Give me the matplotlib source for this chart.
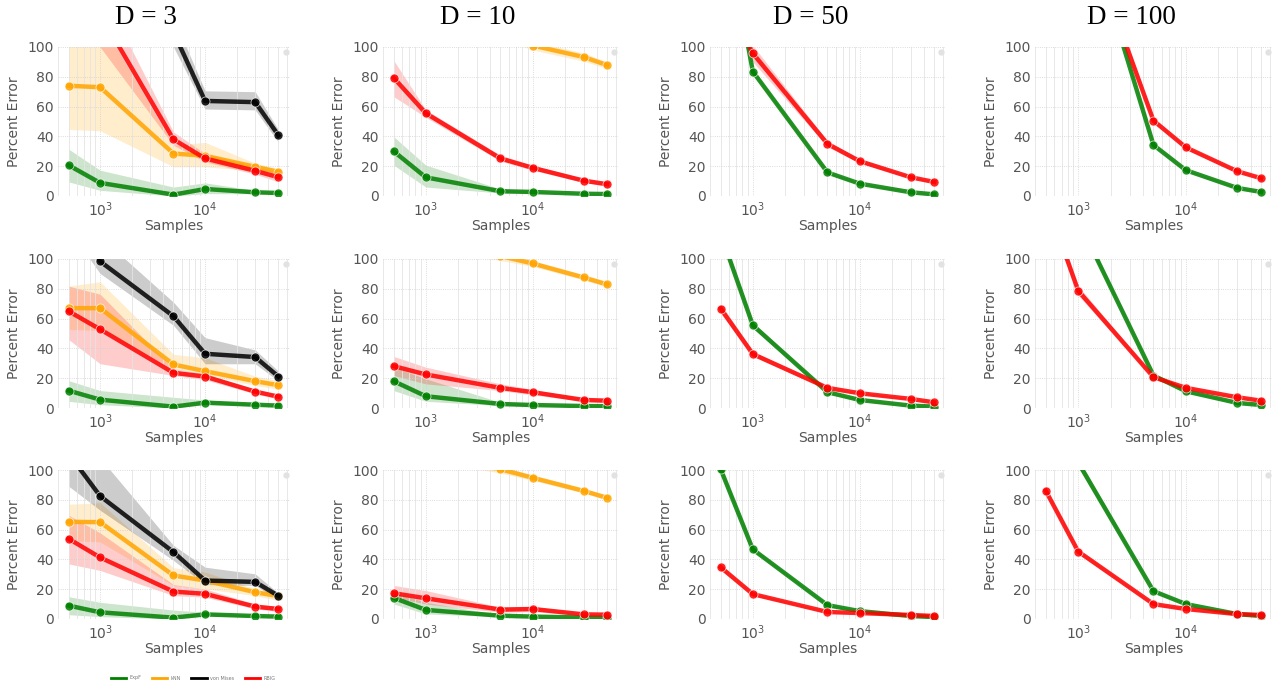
import numpy as np
import matplotlib
matplotlib.use('Agg')
import matplotlib.pyplot as plt
from matplotlib.lines import Line2D

# sample sizes on the x axis
samples = [500, 1000, 5000, 10000, 30000, 50000]
dims = [3, 10, 50, 100]
methods = ['ExpF', 'kNN', 'von Mises', 'RBIG']
colors = {'ExpF': 'green', 'kNN': 'orange', 'von Mises': 'black', 'RBIG': 'red'}

# values are [row][column], None = method not shown in that panel
expf_mean = [
    [[20.7, 8.8, 0.9, 4.7, 2.5, 2.0], [30, 12.5, 3.2, 2.7, 1.5, 1.3],
     [200, 83.5, 15.8, 8.3, 2.5, 1.1], [300, 200, 34.2, 17.3, 5.4, 2.7]],
    [[11.7, 5.6, 0.9, 3.6, 2.2, 1.6], [18, 7.9, 2.7, 2.0, 1.3, 1.2],
     [117, 55.5, 10.6, 5.4, 1.6, 0.9], [160, 126, 21.8, 11.2, 3.4, 2.0]],
    [[9.0, 4.5, 0.9, 3.1, 2.0, 1.6], [14.2, 6.1, 2.2, 1.6, 1.0, 0.8],
     [100.5, 46.7, 9.3, 5.3, 2.0, 1.3], [143, 105, 18.7, 10, 3.3, 2.0]],
]
expf_lo = [
    [[9.5, 3.8, 0, 1.6, 1.5, 1.5], [20.7, 6, 2, 2.2, 1.2, 1.0],
     [195, 82, 15, 7.8, 2.1, 0.8], [295, 196, 33.5, 16.8, 5.0, 2.4]],
    [[4.5, 2.2, 0, 2.2, 1.5, 1.2], [11.7, 4.5, 1.6, 1.6, 1.0, 0.9],
     [114, 53.5, 10, 5.0, 1.3, 0.7], [157, 123, 21, 10.6, 3.0, 1.7]],
    [[2.9, 1.6, 0, 2.0, 1.5, 1.2], [10.1, 3.4, 1.6, 1.2, 0.7, 0.6],
     [98, 45.5, 8.8, 4.9, 1.7, 1.1], [140, 102, 18, 9.5, 3.0, 1.7]],
]
expf_hi = [
    [[31.5, 17.3, 6, 8.8, 3.8, 2.5], [39.8, 20.7, 4.7, 3.2, 1.8, 1.6],
     [205, 85, 16.6, 8.8, 2.9, 1.4], [305, 204, 35, 17.8, 5.8, 3.0]],
    [[18.4, 11.7, 7.2, 5.4, 3.0, 2.2], [27.4, 19.6, 3.8, 2.5, 1.6, 1.5],
     [120, 57.5, 11.2, 5.8, 1.9, 1.1], [163, 129, 22.6, 11.8, 3.8, 2.3]],
    [[15, 11.2, 6, 4.5, 2.6, 2.0], [18, 11.2, 2.8, 2.0, 1.3, 1.0],
     [103, 48, 9.8, 5.7, 2.3, 1.5], [146, 108, 19.4, 10.5, 3.6, 2.3]],
]

knn_mean = [
    [[74, 73, 28.5, 27, 19.6, 16.2], [130, 120, 110, 101, 93.3, 87.8], None, None],
    [[67, 67, 29.2, 24.7, 18, 15.3], [115, 110, 102, 97, 87.6, 82.9], None, None],
    [[65.2, 65, 29.2, 25.8, 18, 15.3], [115, 110, 100.5, 94.8, 86, 81.3], None, None],
]
knn_lo = [
    [[44.7, 43.8, 19.6, 19.6, 17, 14.6], [126, 116, 106, 98, 90.5, 85.5], None, None],
    [[52.8, 52, 26.3, 22.5, 15, 12.8], [111, 106, 99, 95, 86, 81], None, None],
    [[52.8, 51.7, 22.5, 20.2, 15.7, 12.4], [111, 106, 98, 93, 84.5, 79.8], None, None],
]
knn_hi = [
    [[120, 118, 34, 36, 22, 18.5], [134, 124, 114, 104, 96, 90], None, None],
    [[81.8, 84.7, 36, 33.7, 21.3, 18.4], [119, 114, 105, 99, 89.5, 85], None, None],
    [[77, 78, 34.4, 31.5, 20.2, 18], [119, 114, 103, 96.5, 87.5, 83], None, None],
]

vm_mean = [
    [[200, 180, 110, 63.8, 63, 40.7], None, None, None],
    [[130, 98.4, 61.6, 36.4, 34.2, 21.1], None, None, None],
    [[111, 82.5, 44.9, 25.8, 24.9, 15.5], None, None, None],
]
vm_lo = [
    [[190, 170, 100, 58.4, 57.8, 36], None, None, None],
    [[120, 90.3, 55.5, 29.7, 29.7, 18], None, None, None],
    [[89.2, 73, 39.3, 23.1, 22.5, 12.8], None, None, None],
]
vm_hi = [
    [[210, 190, 120, 70.6, 70, 44.3], None, None, None],
    [[140, 115, 71, 47.2, 39, 24.7], None, None, None],
    [[130, 108, 49.4, 34.8, 30.3, 17.3], None, None, None],
]

rbig_mean = [
    [[160, 122, 38, 25.2, 16.9, 12.6], [79.3, 55.5, 25.2, 18.9, 10.3, 7.9],
     [140, 95.7, 35, 23.4, 12.6, 9.4], [280, 190, 50.6, 32.6, 16.6, 11.9]],
    [[65, 52.8, 23.6, 21.1, 11, 7.6], [28.1, 22.5, 13.5, 10.6, 5.4, 4.9],
     [66.7, 36.2, 13.5, 9.9, 6.1, 3.8], [140, 78.7, 20.7, 13.5, 7.2, 4.9]],
    [[53.9, 41.3, 18.4, 16.9, 8.3, 6.7], [17.3, 13.9, 6.3, 6.7, 3.1, 2.9],
     [34.7, 16.7, 4.7, 4.0, 2.7, 2.0], [86, 45.3, 10, 6.7, 3.3, 2.7]],
]
rbig_lo = [
    [[140, 100, 34, 23, 14.6, 9.5], [66.7, 52.8, 23.4, 17.3, 9.2, 6.5],
     [132, 90, 33, 22.2, 11.8, 8.6], [270, 182, 49, 31.5, 15.8, 11.2]],
    [[46, 29.7, 21.8, 18.9, 9.5, 6], [21.8, 16.2, 11.7, 8.8, 4.5, 4.0],
     [63.5, 34.5, 12.7, 9.2, 5.5, 3.3], [135, 75.5, 19.8, 12.8, 6.6, 4.3]],
    [[37, 32.6, 15.7, 14.6, 6.8, 5], [14.6, 10.1, 4.5, 5, 2.2, 2],
     [33, 15.8, 4.1, 3.5, 2.2, 1.6], [84, 43.8, 9.3, 6.1, 2.9, 2.2]],
]
rbig_hi = [
    [[180, 140, 43, 28.5, 19.6, 16], [91, 57.8, 27.4, 20.7, 11.7, 9.2],
     [148, 101, 37, 24.6, 13.4, 10.2], [290, 198, 52.2, 33.7, 17.4, 12.6]],
    [[81.8, 76.4, 26.3, 23, 12.5, 9], [34.6, 27.4, 16.2, 12.5, 6.5, 6],
     [70, 38, 14.3, 10.6, 6.7, 4.3], [145, 82, 21.6, 14.2, 7.8, 5.5]],
    [[69.7, 57.8, 23.1, 20.2, 10, 8.5], [22.5, 19.1, 7.9, 8.5, 4, 4],
     [36.5, 17.6, 5.3, 4.5, 3.2, 2.4], [88, 46.8, 10.7, 7.3, 3.7, 3.2]],
]

series = {
    'ExpF': (expf_mean, expf_lo, expf_hi),
    'kNN': (knn_mean, knn_lo, knn_hi),
    'von Mises': (vm_mean, vm_lo, vm_hi),
    'RBIG': (rbig_mean, rbig_lo, rbig_hi),
}

W, H = 1281, 687
fig = plt.figure(figsize=(W/100, H/100), dpi=100)

col_left = [58, 383, 710, 1035]
col_width = [231, 235, 235, 237]
row_bottom = [196, 408, 619]
ax_h = 149
# column headings sit over the whole column (incl. y label)
title_x = [146, 478, 811, 1131]

tick_col = '#555555'

for r in range(3):
    for c in range(4):
        ax = fig.add_axes([col_left[c]/W, 1 - row_bottom[r]/H, col_width[c]/W, ax_h/H])
        ax.set_xscale('log')
        for m in methods:
            mean, lo, hi = series[m]
            if mean[r][c] is None:
                continue
            ax.fill_between(samples, lo[r][c], hi[r][c], color=colors[m], alpha=0.2, lw=0)
            ax.plot(samples, mean[r][c], color=colors[m], lw=3.2, alpha=0.85,
                    marker='o', ms=6.5, mec='white', mew=0.5)
        ax.set_xlim(397, 63000)
        ax.set_ylim(0, 100)
        ax.set_yticks([0, 20, 40, 60, 80, 100])
        ax.set_xticks([1e3, 1e4])
        ax.grid(which='major', color='#d0d0d0', lw=0.6, ls=':')
        ax.grid(which='minor', axis='x', color='#e4e4e4', lw=0.6, ls='-')
        for s in ax.spines.values():
            s.set_visible(False)
        ax.tick_params(which='both', length=0, labelsize=10, colors=tick_col, pad=3)
        ax.set_xlabel('Samples', fontsize=10, color=tick_col, labelpad=0)
        ax.set_ylabel('Percent Error', fontsize=10, color=tick_col, labelpad=5)
        # faint marker in the top right corner
        ax.plot([0.985], [0.965], transform=ax.transAxes, marker='o', ms=3.5,
                color='#e2e2e2', clip_on=False)

for c in range(4):
    fig.text(title_x[c]/W, 1 - 18/H, 'D = %d' % dims[c], fontsize=19.5,
             family='Liberation Serif', ha='center', va='center')

handles = [Line2D([], [], color=colors[m], lw=2) for m in methods]
leg = fig.legend(handles, methods, loc='center', bbox_to_anchor=(193/W, 1 - 678/H),
                 ncol=4, frameon=False, fontsize=3.5, handlelength=3.2,
                 handletextpad=0.6, columnspacing=2.2)
for t in leg.get_texts():
    t.set_color('#777777')

plt.savefig('out.png', dpi=100)
